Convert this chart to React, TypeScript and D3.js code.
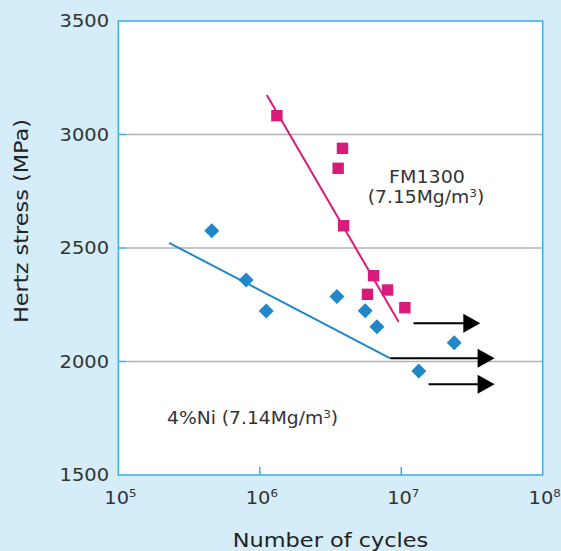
import React from 'react';
import * as d3 from 'd3';

// FM1300 sintered steel, (cycles, Hertz stress MPa)
const fm1300 = [
  { n: 1.32e6, s: 3083 },
  { n: 3.84e6, s: 2939 },
  { n: 3.58e6, s: 2851 },
  { n: 3.91e6, s: 2598 },
  { n: 6.37e6, s: 2378 },
  { n: 5.77e6, s: 2296 },
  { n: 8.0e6, s: 2315 },
  { n: 1.06e7, s: 2237 },
];

// 4%Ni reference material
const ni4 = [
  { n: 4.57e5, s: 2576 },
  { n: 8.0e5, s: 2359 },
  { n: 1.11e6, s: 2223 },
  { n: 3.51e6, s: 2286 },
  { n: 5.56e6, s: 2224 },
  { n: 6.73e6, s: 2153 },
  { n: 2.37e7, s: 2083 },
  { n: 1.33e7, s: 1958 },
];

const fmFit: [number, number][] = [[1.12e6, 3174], [9.57e6, 2175]];
const niFit: [number, number][] = [[2.28e5, 2523], [8.36e6, 2014]];

// run-outs (did not fail)
const runouts = [
  { from: 1.22e7, to: 3.62e7, s: 2168 },
  { from: 8.36e6, to: 4.57e7, s: 2014 },
  { from: 1.56e7, to: 4.57e7, s: 1900 },
];

const yTicks = [1500, 2000, 2500, 3000, 3500];
const xTicks = [1e5, 1e6, 1e7, 1e8];
const xExp = ['5', '6', '7', '8'];

const W = 561;
const H = 551;
const PINK = '#d81a7b';
const BLUE = '#1f87ca';
const FRAME = '#35afe6';
const FONT = '"DejaVu Sans", sans-serif';

// wide-ish text, like the original gothic face
const wide = (x: number, y: number, sx = 1.12) => `translate(${x},${y}) scale(${sx},1)`;

const App: React.FC = () => {
  const x = d3.scaleLog().domain([1e5, 1e8]).range([118.4, 542.7]);
  const y = d3.scaleLinear().domain([1500, 3500]).range([475, 21]);
  const line = d3.line<[number, number]>()
    .x(d => x(d[0]))
    .y(d => y(d[1]));

  const [x0, x1] = x.range();
  const [yb, yt] = y.range();

  return (
    <svg width={W} height={H} style={{ position: 'absolute', left: 0, top: 0 }} fontFamily={FONT}>
      <rect x={0} y={0} width={W} height={H} fill="#d5ecf9" />
      <rect x={x0} y={yt} width={x1 - x0} height={yb - yt} fill="#fff" />

      {/* grid */}
      {yTicks.slice(1, -1).map(t => (
        <g key={t}>
          <line x1={x0 + 8} x2={x1} y1={y(t)} y2={y(t)} stroke="#b3b3b3" strokeWidth={1.5} />
          <line x1={x0} x2={x0 + 8} y1={y(t)} y2={y(t)} stroke={FRAME} strokeWidth={1.5} />
        </g>
      ))}
      {xTicks.slice(1, -1).map(t => (
        <line key={t} x1={x(t)} x2={x(t)} y1={yb} y2={yb - 8} stroke={FRAME} strokeWidth={1.5} />
      ))}
      <rect x={x0} y={yt} width={x1 - x0} height={yb - yt} fill="none" stroke={FRAME} strokeWidth={1.5} />

      {/* y tick labels */}
      {yTicks.map(t => (
        <text key={t} transform={wide(109, y(t), 1.08)} dy="0.36em" textAnchor="end" fontSize={18} fill="#333">
          {t}
        </text>
      ))}

      {/* x tick labels */}
      {xTicks.map((t, i) => (
        <text key={t} transform={wide(x(t) + 2, 504, 1.08)} textAnchor="middle" fontSize={18} fill="#333">
          <tspan>10</tspan>
          <tspan fontSize={11} dy={-7}>{xExp[i]}</tspan>
        </text>
      ))}

      <text transform={wide((x0 + x1) / 2, 547, 1.15)} textAnchor="middle" fontSize={19.5} fill="#222">
        Number of cycles
      </text>
      <text transform={`translate(28,221) rotate(-90) scale(1.15,1)`} textAnchor="middle" fontSize={19.5} fill="#222">
        Hertz stress (MPa)
      </text>

      {/* fits */}
      <path d={line(fmFit) || ''} fill="none" stroke={PINK} strokeWidth={2} />
      <path d={line(niFit) || ''} fill="none" stroke={BLUE} strokeWidth={2} />

      {/* run-out arrows */}
      {runouts.map((r, i) => {
        const xs = x(r.from);
        const xe = x(r.to);
        const yy = y(r.s);
        return (
          <g key={i}>
            <line x1={xs} x2={xe - 15} y1={yy} y2={yy} stroke="#000" strokeWidth={2} />
            <path d={`M${xe},${yy}L${xe - 17},${yy - 9.5}L${xe - 17},${yy + 9.5}Z`} fill="#000" />
          </g>
        );
      })}

      {/* points */}
      {fm1300.map((d, i) => (
        <rect key={i} x={x(d.n) - 5.7} y={y(d.s) - 5.7} width={11.4} height={11.4} fill={PINK} />
      ))}
      {ni4.map((d, i) => {
        const cx = x(d.n);
        const cy = y(d.s);
        const r = 7.5;
        return <path key={i} d={`M${cx},${cy - r}L${cx + r},${cy}L${cx},${cy + r}L${cx - r},${cy}Z`} fill={BLUE} />;
      })}

      {/* annotations */}
      <text transform={wide(427, 183, 1.12)} textAnchor="middle" fontSize={17} fill="#333">
        FM1300
      </text>
      <text transform={wide(426, 203, 1.1)} textAnchor="middle" fontSize={17} fill="#333">
        (7.15Mg/m<tspan fontSize={11} dy={-6}>3</tspan><tspan dy={6}>)</tspan>
      </text>
      <text transform={wide(167, 424, 1.1)} fontSize={17} fill="#333">
        4%Ni (7.14Mg/m<tspan fontSize={11} dy={-6}>3</tspan><tspan dy={6}>)</tspan>
      </text>
    </svg>
  );
};

export default App;
